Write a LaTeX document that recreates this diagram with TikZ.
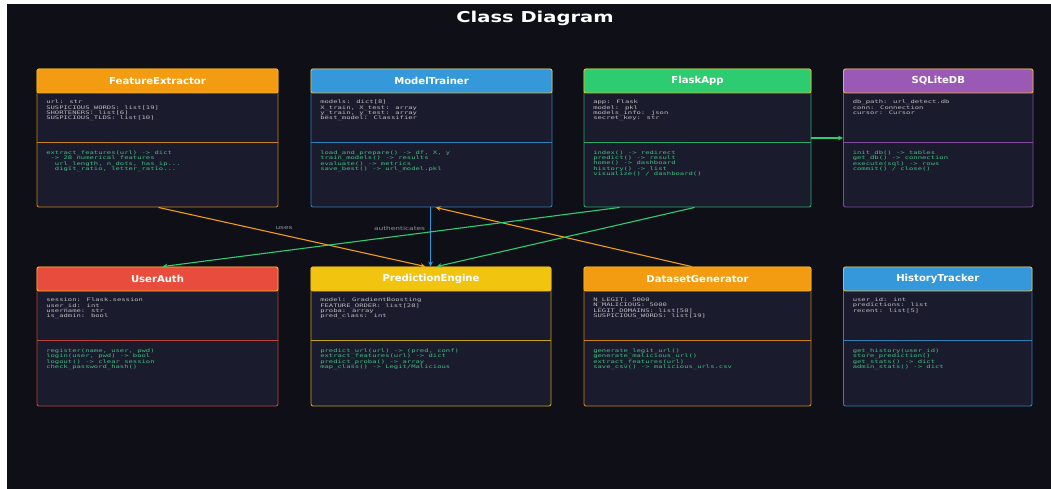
\documentclass[tikz,border=0pt]{standalone}
\usepackage{fontspec}
\usetikzlibrary{arrows.meta,fit}
\newfontfamily\titlefont[FakeStretch=1.3]{DejaVu Sans}
\newfontfamily\headfont[FakeStretch=1.05]{DejaVu Sans}
\newfontfamily\codefont[FakeStretch=1.5]{DejaVu Sans Mono}
\newfontfamily\lblfont[FakeStretch=1.35]{DejaVu Sans}
\definecolor{bg}{HTML}{0E0F17}
\definecolor{body}{HTML}{1B1B2E}
\definecolor{corange}{HTML}{F39C12}
\definecolor{cblue}{HTML}{3498DB}
\definecolor{cgreen}{HTML}{2ECC71}
\definecolor{cpurple}{HTML}{9B59B6}
\definecolor{cred}{HTML}{E74C3C}
\definecolor{cyellow}{HTML}{F1C40F}
\definecolor{attrc}{HTML}{BDBDBD}
\definecolor{methc}{HTML}{3FBF7F}
\definecolor{hedge}{HTML}{F0B429}
\definecolor{lblc}{HTML}{8E8E99}
\tikzset{
  classbox/.style={fill=body, rounded corners=2pt, line width=0.9pt, inner sep=0pt},
  headbox/.style={draw=hedge, rounded corners=2pt, line width=0.9pt, inner sep=0pt},
  headtext/.style={text=white, font=\headfont\bfseries\fontsize{9.6}{11}\selectfont, inner sep=0pt},
  attrtext/.style={text=attrc, align=left, inner sep=0pt, font=\codefont\fontsize{4.8}{5.4}\selectfont},
  methtext/.style={text=methc, align=left, inner sep=0pt, font=\codefont\fontsize{4.8}{5.4}\selectfont},
  conn/.style={line width=1.1pt, -{Stealth[length=5pt,width=4.5pt]}},
  lbl/.style={text=lblc, font=\lblfont\fontsize{5.5}{6}\selectfont, inner sep=0pt},
}
% #1 name, #2 colour, #3 left, #4 top, #5 right, #6 bottom, #7 title, #8 attributes, #9 methods
\newcommand\umlclass[9]{%
  \node[classbox, draw=#2!80!body, fit={(#3,#4) (#5,#6)}] (#1) {};
  \node[headbox, fill=#2, fit={(#3,#4) (#5,#4+24)}] (#1-h) {};
  \node[headtext] (#1-t) at (#1-h.center) {#7};
  \draw[#2!80!body, line width=0.9pt] ([yshift=-74pt]#1.north west) -- ([yshift=-74pt]#1.north east);
  \node[attrtext, anchor=north west] (#1-a) at ([xshift=9.5pt,yshift=-31.2pt]#1.north west) {#8};
  \node[methtext, anchor=north west] (#1-m) at ([xshift=9.5pt,yshift=-81.8pt]#1.north west) {#9};
}
\begin{document}
\begin{tikzpicture}[x=1pt,y=-1pt]
\useasboundingbox (0,0) rectangle (1051,489);
\fill[white] (0,0) rectangle (1051,489);
\fill[bg] (7,4) rectangle (1051,489);
\node[text=white, font=\titlefont\bfseries\fontsize{15}{18}\selectfont, inner sep=0pt] (title) at (535,18) {Class Diagram};

\umlclass{fe}{corange}{37}{69}{278}{207}{FeatureExtractor}
  {url: str\\SUSPICIOUS\_WORDS: list[19]\\SHORTENERS: list[6]\\SUSPICIOUS\_TLDS: list[10]}
  {extract\_features(url) -> dict\\\ -> 28 numerical features\\\ \ url\_length, n\_dots, has\_ip...\\\ \ digit\_ratio, letter\_ratio...}
\umlclass{mt}{cblue}{311}{69}{552}{207}{ModelTrainer}
  {models: dict[8]\\X\_train, X\_test: array\\y\_train, y\_test: array\\best\_model: Classifier}
  {load\_and\_prepare() -> df, X, y\\train\_models() -> results\\evaluate() -> metrics\\save\_best() -> url\_model.pkl}
\umlclass{fa}{cgreen}{584}{69}{811}{207}{FlaskApp}
  {app: Flask\\model: pkl\\models\_info: json\\secret\_key: str}
  {index() -> redirect\\predict() -> result\\home() -> dashboard\\history() -> list\\visualize() / dashboard()}
\umlclass{db}{cpurple}{843.5}{69}{1033}{207}{SQLiteDB}
  {db\_path: url\_detect.db\\conn: Connection\\cursor: Cursor}
  {init\_db() -> tables\\get\_db() -> connection\\execute(sql) -> rows\\commit() / close()}
\umlclass{ua}{cred}{37}{267}{278}{406}{UserAuth}
  {session: Flask.session\\user\_id: int\\username: str\\is\_admin: bool}
  {register(name, user, pwd)\\login(user, pwd) -> bool\\logout() -> clear session\\check\_password\_hash()}
\umlclass{pe}{cyellow}{311}{267}{551}{406}{PredictionEngine}
  {model: GradientBoosting\\FEATURE\_ORDER: list[28]\\proba: array\\pred\_class: int}
  {predict\_url(url) -> (pred, conf)\\extract\_features(url) -> dict\\predict\_proba() -> array\\map\_class() -> Legit/Malicious}
\umlclass{dg}{corange}{584}{267}{811}{406}{DatasetGenerator}
  {N\_LEGIT: 5000\\N\_MALICIOUS: 5000\\LEGIT\_DOMAINS: list[50]\\SUSPICIOUS\_WORDS: list[19]}
  {generate\_legit\_url()\\generate\_malicious\_url()\\extract\_features(url)\\save\_csv() -> malicious\_urls.csv}
\umlclass{ht}{cblue}{843.5}{267}{1032}{406}{HistoryTracker}
  {user\_id: int\\predictions: list\\recent: list[5]}
  {get\_history(user\_id)\\store\_prediction()\\get\_stats() -> dict\\admin\_stats() -> dict}

\draw[conn, corange] ([xshift=122pt]fe.south west) -- node[lbl, pos=0.47, yshift=7pt] (l-uses) {uses} ([xshift=115pt]pe.north west);
\draw[conn, cblue] ([xshift=120pt]mt.south west) -- node[lbl, pos=0.35, xshift=-31pt] (l-auth) {authenticates} ([xshift=120pt]pe.north west);
\draw[conn, corange] ([xshift=108pt]dg.north west) -- ([xshift=125pt]mt.south west);
\draw[conn, cgreen] ([xshift=36pt]fa.south west) -- ([xshift=126pt]ua.north west);
\draw[conn, cgreen] ([xshift=111pt]fa.south west) -- ([xshift=126pt]pe.north west);
\draw[conn, cgreen] (fa.east) -- (db.west);
\end{tikzpicture}
\end{document}
